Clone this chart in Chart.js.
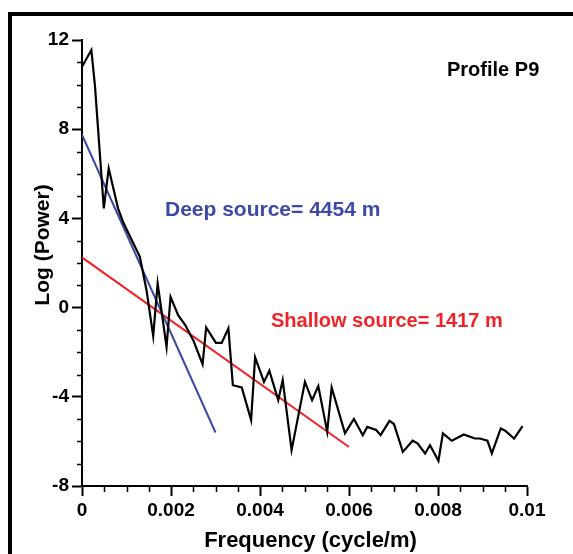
<!DOCTYPE html>
<html>
<head>
<meta charset="utf-8">
<script src="https://cdn.jsdelivr.net/npm/chart.js@4.4.1/dist/chart.umd.min.js"></script>
<style>
  html, body { margin: 0; padding: 0; background: #fff; }
  #wrap { position: relative; width: 573px; height: 554px; overflow: hidden; }
  #frame { position: absolute; left: 8px; top: 12px; width: 700px; height: 700px;
           border-left: 4px solid #000; border-top: 4px solid #000; }
  canvas { position: absolute; left: 0; top: 0; }
</style>
</head>
<body>
<div id="wrap">
  <div id="frame"></div>
  <canvas id="spectrumChart" width="573" height="554"></canvas>
</div>
<script>
// power spectrum, profile P9
const freq = [0, 0.00021, 0.00029, 0.00049, 0.0006, 0.00081, 0.00092, 0.0013, 0.00145, 0.0016,
  0.0017, 0.0019, 0.00199, 0.00216, 0.00232, 0.0025, 0.00271, 0.00279, 0.00301, 0.00314,
  0.00329, 0.00339, 0.00359, 0.0038, 0.00389, 0.00409, 0.00421, 0.00441, 0.00451, 0.00471,
  0.00501, 0.00517, 0.00531, 0.00551, 0.00561, 0.00591, 0.00611, 0.00631, 0.00641, 0.00661,
  0.00671, 0.00691, 0.00701, 0.00721, 0.00743, 0.00754, 0.00771, 0.00782, 0.00801, 0.00811,
  0.00831, 0.00858, 0.00883, 0.00894, 0.00911, 0.00921, 0.00941, 0.00951, 0.00971, 0.0099];
const logPower = [10.8, 11.55, 9.98, 4.45, 6.24, 4.45, 3.85, 2.28, 0.78, -1.28,
  1.09, -1.76, 0.48, -0.34, -0.78, -1.46, -2.54, -0.89, -1.58, -1.58,
  -0.93, -3.48, -3.58, -5.04, -2.23, -3.33, -2.83, -4.15, -3.25, -6.39,
  -3.33, -4.15, -3.52, -5.57, -3.58, -5.64, -4.99, -5.72, -5.35, -5.49,
  -5.72, -5.08, -5.22, -6.47, -5.97, -6.09, -6.54, -6.17, -6.87, -5.64,
  -5.97, -5.69, -5.87, -5.87, -5.97, -6.54, -5.42, -5.52, -5.87, -5.31];

// fitted lines
const deepFreq = [0, 0.003];
const deepPower = [7.75, -5.6];
const shallowFreq = [0, 0.006];
const shallowPower = [2.25, -6.25];

const xTicks = [0, 0.002, 0.004, 0.006, 0.008, 0.01];
const yTicks = [-8, -4, 0, 4, 8, 12];

const FONT = "'Liberation Sans', Arial, sans-serif";
const BLUE = '#3a4aa6';
const RED = '#ee2428';

const toPoints = (xs, ys) => xs.map((x, i) => ({ x: x, y: ys[i] }));

// minor ticks, titles and labels
const extrasPlugin = {
  id: 'extras',
  afterDraw(chart) {
    const { ctx, chartArea: a, scales: { x, y } } = chart;
    ctx.save();
    ctx.strokeStyle = '#000';
    ctx.lineWidth = 1.5;
    for (let i = 0; i <= 20; i++) {
      if (i % 4 === 0) continue;
      const px = Math.round(x.getPixelForValue(i * 0.0005)) + 0.5;
      ctx.beginPath();
      ctx.moveTo(px, a.bottom);
      ctx.lineTo(px, a.bottom + 6);
      ctx.stroke();
    }
    for (let v = -8; v <= 12; v++) {
      if (v % 4 === 0) continue;
      const py = Math.round(y.getPixelForValue(v)) + 0.5;
      ctx.beginPath();
      ctx.moveTo(a.left - 5, py);
      ctx.lineTo(a.left, py);
      ctx.stroke();
    }

    ctx.fillStyle = '#000';
    ctx.font = 'bold 22px ' + FONT;
    ctx.textAlign = 'center';
    ctx.textBaseline = 'alphabetic';
    ctx.fillText('Frequency (cycle/m)', (a.left + a.right) / 2 + 6, 547);

    ctx.save();
    ctx.font = 'bold 21px ' + FONT;
    ctx.translate(49, 245);
    ctx.rotate(-Math.PI / 2);
    ctx.fillText('Log (Power)', 0, 0);
    ctx.restore();

    ctx.textAlign = 'left';
    ctx.font = 'bold 20px ' + FONT;
    ctx.fillText('Profile P9', 447, 76);

    ctx.fillStyle = BLUE;
    ctx.font = 'bold 21px ' + FONT;
    ctx.fillText('Deep source= 4454 m', 165, 216);

    ctx.fillStyle = RED;
    ctx.font = 'bold 20px ' + FONT;
    ctx.fillText('Shallow source= 1417 m', 271, 327);
    ctx.restore();
  }
};

new Chart(document.getElementById('spectrumChart'), {
  type: 'scatter',
  data: {
    datasets: [{
      label: 'Spectrum',
      data: toPoints(freq, logPower),
      showLine: true,
      borderColor: '#000',
      borderWidth: 2.2,
      pointRadius: 0,
      tension: 0
    }, {
      label: 'Deep source',
      data: toPoints(deepFreq, deepPower),
      showLine: true,
      borderColor: BLUE,
      borderWidth: 2,
      pointRadius: 0
    }, {
      label: 'Shallow source',
      data: toPoints(shallowFreq, shallowPower),
      showLine: true,
      borderColor: RED,
      borderWidth: 2,
      pointRadius: 0
    }]
  },
  options: {
    responsive: false,
    animation: false,
    layout: { padding: { top: 40, right: 46, left: 0, bottom: 0 } },
    plugins: {
      legend: { display: false },
      tooltip: { enabled: false }
    },
    scales: {
      x: {
        type: 'linear',
        min: 0,
        max: 0.01,
        afterBuildTicks: (scale) => { scale.ticks = xTicks.map(v => ({ value: v })); },
        afterFit: (scale) => { scale.height = 68; },
        grid: { drawOnChartArea: false, tickLength: 10, tickWidth: 2, tickColor: '#000' },
        border: { color: '#000', width: 2 },
        ticks: {
          color: '#000',
          padding: 3,
          maxRotation: 0,
          font: { family: FONT, size: 19, weight: 'bold' },
          callback: (v) => String(parseFloat(Number(v).toFixed(4)))
        }
      },
      y: {
        min: -8,
        max: 12,
        afterBuildTicks: (scale) => { scale.ticks = yTicks.map(v => ({ value: v })); },
        afterFit: (scale) => { scale.width = 82; },
        grid: { drawOnChartArea: false, tickLength: 10, tickWidth: 2, tickColor: '#000' },
        border: { color: '#000', width: 2 },
        ticks: {
          color: '#000',
          padding: 3,
          font: { family: FONT, size: 19, weight: 'bold' }
        }
      }
    }
  },
  plugins: [extrasPlugin]
});
</script>
</body>
</html>
